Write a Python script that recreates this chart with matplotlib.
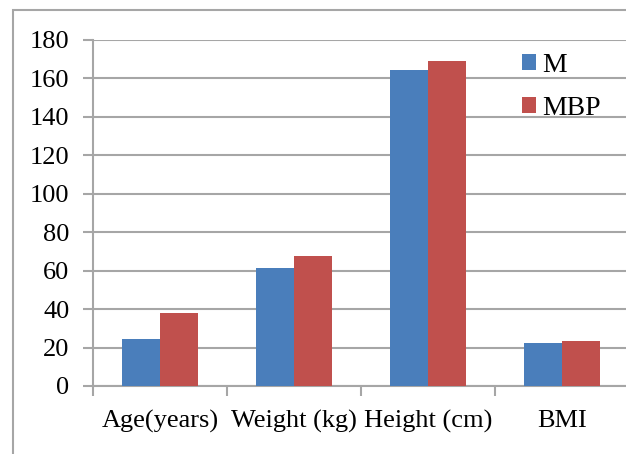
import numpy as np
import matplotlib.pyplot as plt
from matplotlib.patches import Rectangle

categorias = ['Age(years)', 'Weight (kg)', 'Height (cm)', 'BMI']
m = [24.6, 61.2, 164.3, 22.5]
mbp = [38.1, 67.6, 169.0, 23.4]
yticks = [0, 20, 40, 60, 80, 100, 120, 140, 160, 180]

plt.rcParams['font.family'] = ['Liberation Serif', 'DejaVu Serif']
gris = '#a6a6a6'

W, H = 626, 454
fig = plt.figure(figsize=(W / 100, H / 100), dpi=100)

# marco del grafico (solo se ven el borde izquierdo y el superior)
fig.patches.append(Rectangle((13 / W, -0.1), 2.0, 1 - 10 / H + 0.1,
                             transform=fig.transFigure, fill=False,
                             edgecolor=gris, linewidth=1.5))

x0, x1 = 93, 629
y0, y1 = 386, 40
ax = fig.add_axes([x0 / W, 1 - y0 / H, (x1 - x0) / W, (y0 - y1) / H])

x = np.arange(len(categorias))
ancho = 0.284
ax.bar(x - ancho / 2, m, ancho, color='#4a7ebb', label='M', zorder=3)
ax.bar(x + ancho / 2, mbp, ancho, color='#c0504d', label='MBP', zorder=3)

ax.set_xlim(-0.5, len(categorias) - 0.5)
ax.set_ylim(0, 180)
ax.set_yticks(yticks)
ax.yaxis.grid(True, color=gris, linewidth=1.5, zorder=0)
ax.set_axisbelow(True)

ax.set_xticks(x)
ax.set_xticklabels(categorias)
ax.set_xticks(np.arange(len(categorias)) - 0.5, minor=True)
ax.tick_params(axis='x', which='major', length=0, pad=17, labelsize=19)
ax.tick_params(axis='x', which='minor', length=7, width=1.5, color=gris)
ax.tick_params(axis='y', length=7, width=1.5, color=gris, labelsize=19, pad=10)

for lado in ['top', 'right']:
    ax.spines[lado].set_visible(False)
for lado in ['left', 'bottom']:
    ax.spines[lado].set_color(gris)
    ax.spines[lado].set_linewidth(1.5)

ax.legend(loc='upper left', bbox_to_anchor=(0.77, 1.01), frameon=False,
          fontsize=20, handlelength=0.5, handleheight=0.5, handletextpad=0.2,
          labelspacing=0.65, borderaxespad=0.2)

fig.savefig('out.png', dpi=100)
